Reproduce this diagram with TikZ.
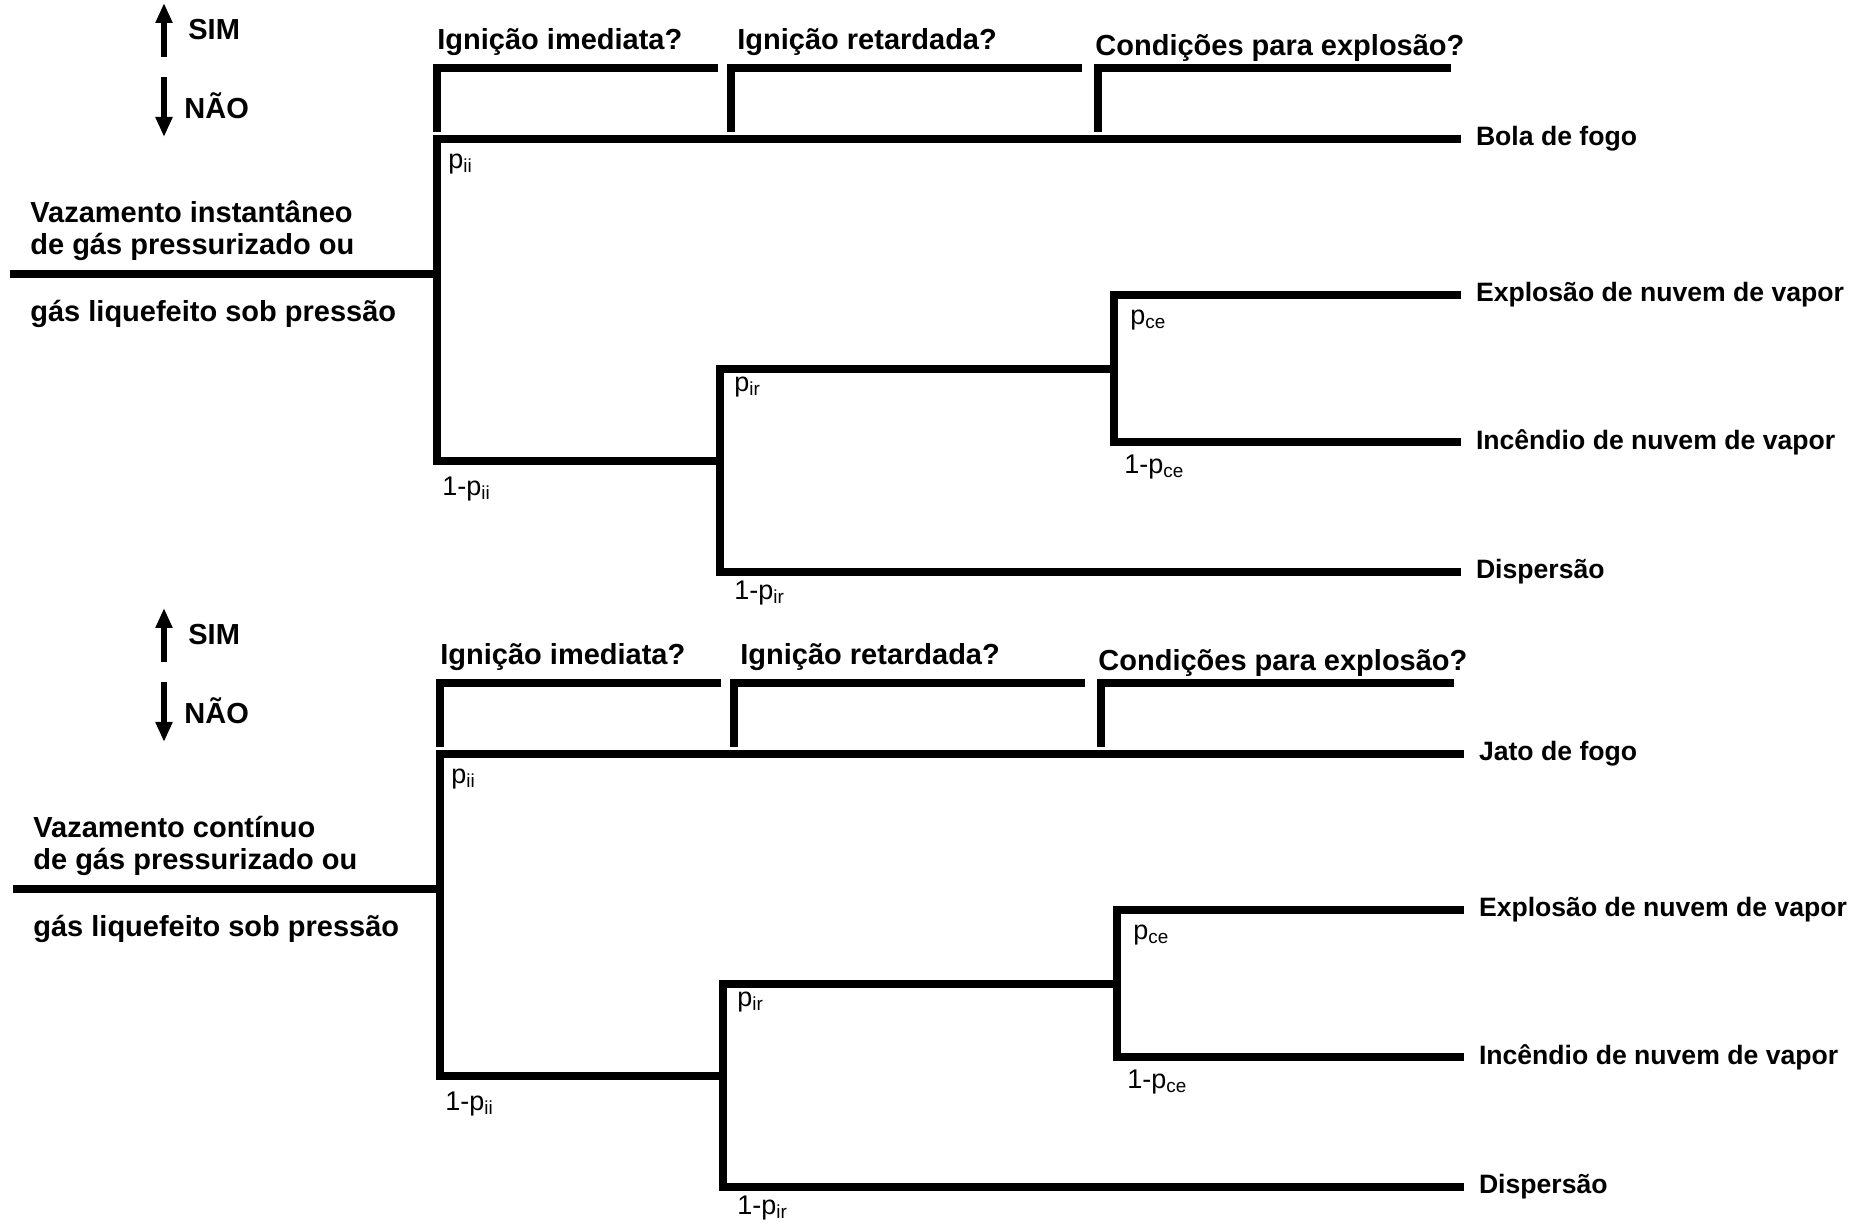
\documentclass[tikz,border=0pt]{standalone}
\usepackage{fontspec}
\setmainfont{Liberation Sans}
\usetikzlibrary{arrows.meta}

\tikzset{
  ramo/.style={line width=3.7pt, line join=miter},
  seta/.style={line width=2.8pt, -{Triangle[length=10pt,width=8pt]}},
  perg/.style={font=\fontsize{14.5}{17}\selectfont\bfseries, anchor=west, inner sep=0pt},
  fim/.style={font=\fontsize{13.3}{16}\selectfont\bfseries, anchor=west, inner sep=0pt, outer sep=7.5pt},
  prob/.style={font=\fontsize{13.5}{15}\selectfont, anchor=west, inner sep=0pt},
}

\begin{document}
\begin{tikzpicture}[x=0.5pt, y=-0.5pt]
\useasboundingbox (0,0) rectangle (1865,1224);
% legenda sim / nao
\foreach \t/\dy in {1/0, 2/605} {
  \begin{scope}[shift={(0,\dy)}]
    \coordinate (simpe\t) at (164,57);
    \coordinate (simponta\t) at (164,3);
    \coordinate (naope\t) at (164,77);
    \coordinate (naoponta\t) at (164,137);
    \draw[seta] (simpe\t) -- (simponta\t);
    \draw[seta] (naope\t) -- (naoponta\t);
    \node[perg] (sim\t) at (188,30) {SIM};
    \node[perg] (nao\t) at (184,106) {NÃO};
  \end{scope}
}
% as duas arvores de eventos
\foreach \t/\dy/\tipo/\desfecho in {1/0/instantâneo/Bola de fogo, 2/615/contínuo/Jato de fogo} {
  \begin{scope}[shift={({3*\t-3},\dy)}]
    % perguntas
    \node[perg] (q1\t) at (437,42) {Ignição imediata?};
    \node[perg] (q2\t) at (737,42) {Ignição retardada?};
    \node[perg] (q3\t) at (1095,48) {Condições para explosão?};
    \foreach \k/\xa/\xb in {1/437/718, 2/731/1082, 3/1098/1451} {
      \coordinate (cb\k\t) at (\xa,132);
      \coordinate (ca\k\t) at (\xa,68);
      \coordinate (cc\k\t) at (\xb,68);
      \draw[ramo] (cb\k\t) -- (ca\k\t) -- (cc\k\t);
    }
    % evento iniciador
    \node[perg] (v1\t) at (30,212) {Vazamento \tipo};
    \node[perg] (v2\t) at (30,247) {de gás pressurizado ou};
    \node[perg] (v3\t) at (30,314) {gás liquefeito sob pressão};
    % ramos
    \coordinate (ini\t) at (10,274);
    \coordinate (j\t) at (437,274);
    \coordinate (a\t) at (437,139);
    \coordinate (b\t) at (437,461);
    \coordinate (c\t) at (720,461);
    \coordinate (d\t) at (720,369);
    \coordinate (e\t) at (720,572);
    \coordinate (f\t) at (1114,369);
    \coordinate (g\t) at (1114,295);
    \coordinate (h\t) at (1114,442);
    \node[fim] (r1\t) at (1461,139) {\desfecho};
    \node[fim] (r2\t) at (1461,295) {Explosão de nuvem de vapor};
    \node[fim] (r3\t) at (1461,442) {Incêndio de nuvem de vapor};
    \node[fim] (r4\t) at (1461,572) {Dispersão};
    \draw[ramo] (ini\t) -- (j\t);
    \draw[ramo] (r1\t.west) -- (a\t) -- (b\t) -- (c\t);
    \draw[ramo] (f\t) -- (d\t) -- (e\t) -- (r4\t.west);
    \draw[ramo] (r2\t.west) -- (g\t) -- (h\t) -- (r3\t.west);
    % probabilidades
    \node[prob] (pii\t) at (448,164) {p\textsubscript{ii}};
    \node[prob] (qii\t) at (442,489) {1-p\textsubscript{ii}};
    \node[prob] (pir\t) at (734,387) {p\textsubscript{ir}};
    \node[prob] (qir\t) at (734,593) {1-p\textsubscript{ir}};
    \node[prob] (pce\t) at (1130,320) {p\textsubscript{ce}};
    \node[prob] (qce\t) at (1124,467) {1-p\textsubscript{ce}};
  \end{scope}
}
\end{tikzpicture}
\end{document}
